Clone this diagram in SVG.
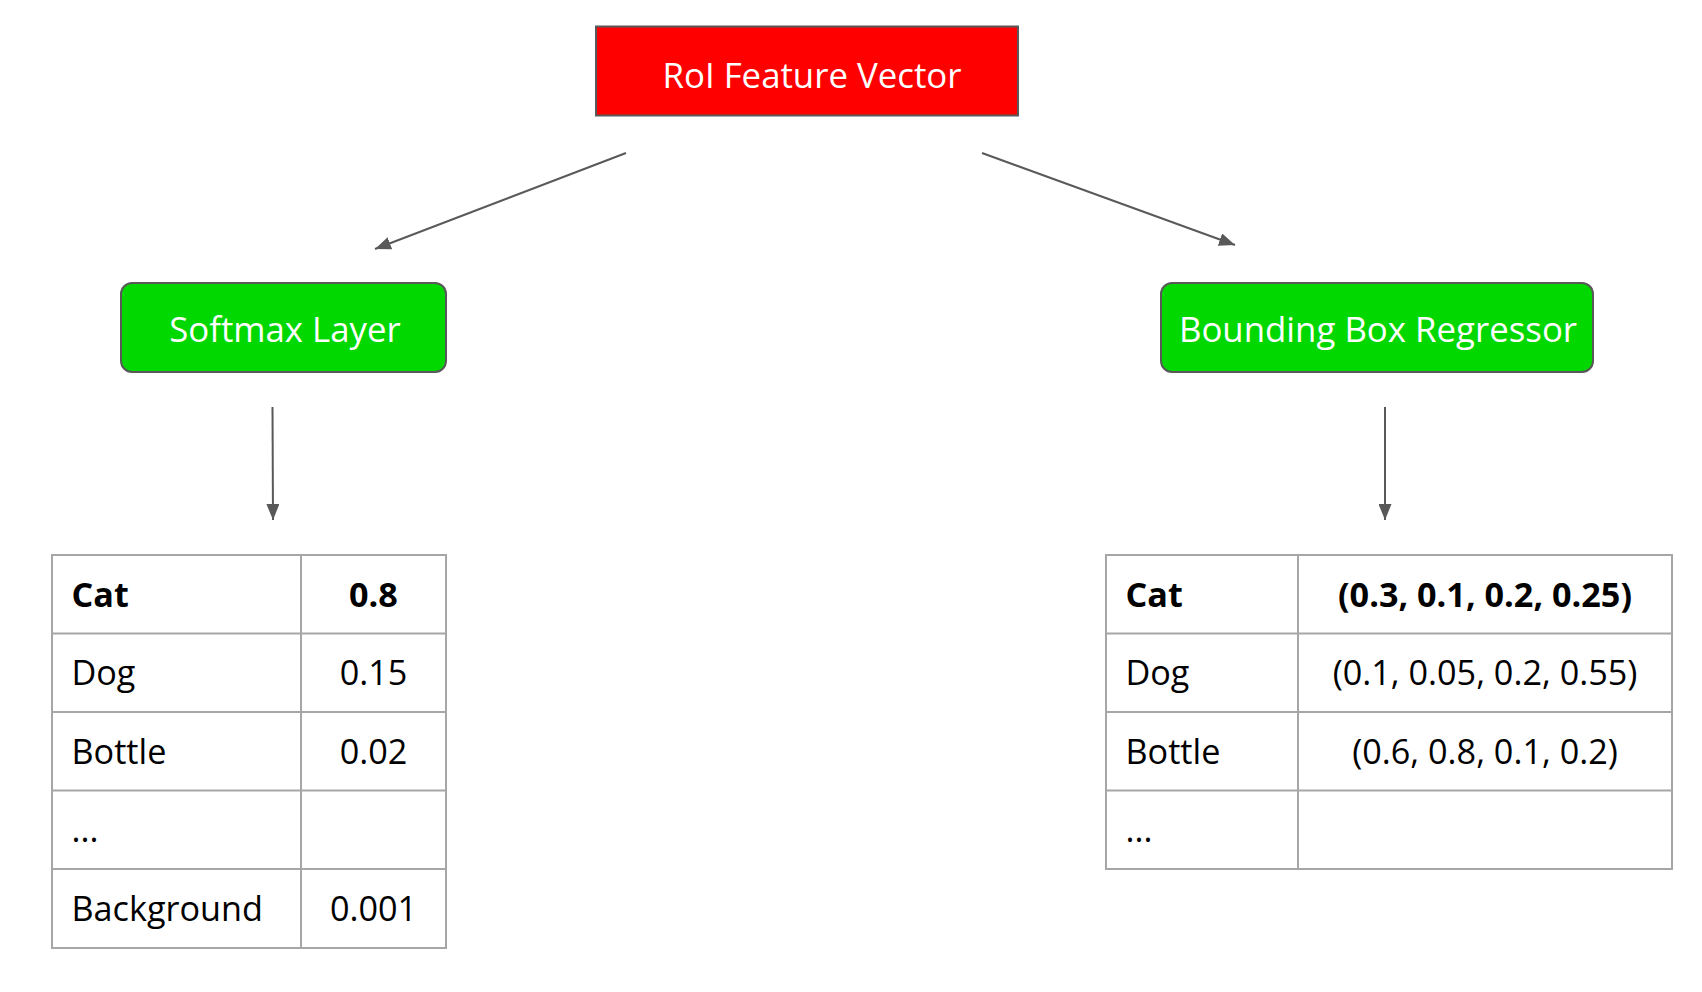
<svg xmlns="http://www.w3.org/2000/svg" width="1702" height="992" viewBox="0 0 1702 992">
<style>
  .lbl{font-family:"Open Sans","Noto Sans","DejaVu Sans",sans-serif;font-size:34.8px;fill:#fff;text-anchor:middle}
  .cell{font-family:"Open Sans","Noto Sans","DejaVu Sans",sans-serif;font-size:34.2px;fill:#000}
  .b{font-weight:bold}
  .mid{text-anchor:middle}
  .grid{stroke:#a6a6a6;stroke-width:2;fill:none}
  .conn{stroke:#595959;stroke-width:2;fill:none}
</style>
<defs>
  <marker id="ah" markerUnits="userSpaceOnUse" markerWidth="17" markerHeight="13" refX="16" refY="6.5" orient="auto">
    <path d="M0,0 L16,6.5 L0,13 z" fill="#595959"/>
  </marker>
</defs>
<rect width="1702" height="992" fill="#fff"/>
<g id="roi">
  <rect x="596" y="26.5" width="422" height="89" fill="#ff0000" stroke="#595959" stroke-width="2"/>
  <text class="lbl" x="812" y="88">RoI Feature Vector</text>
</g>
<g id="softmax">
  <rect x="121" y="283" width="325" height="89" rx="11" fill="#00d800" stroke="#595959" stroke-width="2"/>
  <text class="lbl" x="285" y="342">Softmax Layer</text>
</g>
<g id="bbr">
  <rect x="1161" y="283" width="432" height="89" rx="11" fill="#00d800" stroke="#595959" stroke-width="2"/>
  <text class="lbl" x="1378" y="342">Bounding Box Regressor</text>
</g>
<g id="connectors">
  <line class="conn" x1="626" y1="153" x2="375" y2="249" marker-end="url(#ah)"/>
  <line class="conn" x1="982" y1="153" x2="1235" y2="245" marker-end="url(#ah)"/>
  <line class="conn" x1="272.5" y1="407" x2="273" y2="520" marker-end="url(#ah)"/>
  <line class="conn" x1="1385" y1="407" x2="1385" y2="520" marker-end="url(#ah)"/>
</g>
<g id="softmax-table">
  <rect class="grid" x="52" y="555" width="394" height="393"/>
  <line class="grid" x1="301" y1="555" x2="301" y2="948"/>
  <line class="grid" x1="52" y1="633.5" x2="446" y2="633.5"/>
  <line class="grid" x1="52" y1="712" x2="446" y2="712"/>
  <line class="grid" x1="52" y1="790.5" x2="446" y2="790.5"/>
  <line class="grid" x1="52" y1="869" x2="446" y2="869"/>
  <text class="cell b" x="71.5" y="606.5">Cat</text>
  <text class="cell b mid" x="373.5" y="606.5">0.8</text>
  <text class="cell" x="71.5" y="685">Dog</text>
  <text class="cell mid" x="373.5" y="685">0.15</text>
  <text class="cell" x="71.5" y="763.5">Bottle</text>
  <text class="cell mid" x="373.5" y="763.5">0.02</text>
  <text class="cell" x="71.5" y="842">...</text>
  <text class="cell" x="71.5" y="920.5">Background</text>
  <text class="cell mid" x="373.5" y="920.5">0.001</text>
</g>
<g id="bbr-table">
  <rect class="grid" x="1106" y="555" width="566" height="314"/>
  <line class="grid" x1="1298" y1="555" x2="1298" y2="869"/>
  <line class="grid" x1="1106" y1="633.5" x2="1672" y2="633.5"/>
  <line class="grid" x1="1106" y1="712" x2="1672" y2="712"/>
  <line class="grid" x1="1106" y1="790.5" x2="1672" y2="790.5"/>
  <text class="cell b" x="1125.5" y="606.5">Cat</text>
  <text class="cell b mid" x="1485" y="606.5">(0.3, 0.1, 0.2, 0.25)</text>
  <text class="cell" x="1125.5" y="685">Dog</text>
  <text class="cell mid" x="1485" y="685">(0.1, 0.05, 0.2, 0.55)</text>
  <text class="cell" x="1125.5" y="763.5">Bottle</text>
  <text class="cell mid" x="1485" y="763.5">(0.6, 0.8, 0.1, 0.2)</text>
  <text class="cell" x="1125.5" y="842">...</text>
</g>
</svg>
